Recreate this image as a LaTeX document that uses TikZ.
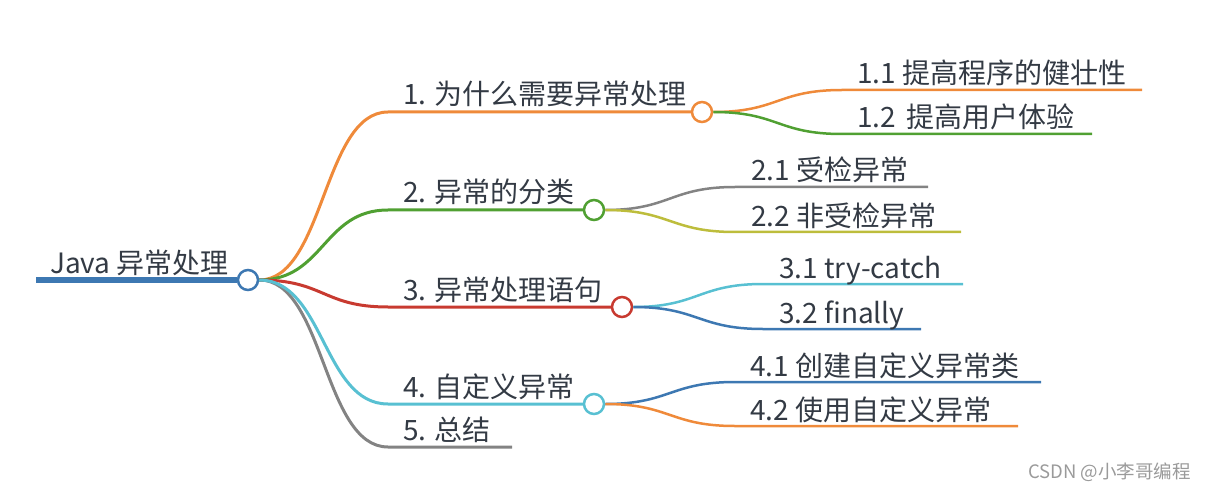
\documentclass[tikz,border=0pt]{standalone}
\usepackage{fontspec}
\setmainfont{Noto Sans CJK SC}
\usetikzlibrary{positioning}
\usepackage{xcolor}
\definecolor{mmtext}{HTML}{333A44}
\definecolor{mmblue}{HTML}{3D78B2}
\definecolor{mmorange}{HTML}{EF8A3A}
\definecolor{mmgreen}{HTML}{50A032}
\definecolor{mmred}{HTML}{C83A30}
\definecolor{mmcyan}{HTML}{58C0D2}
\definecolor{mmgray}{HTML}{838383}
\definecolor{mmolive}{HTML}{BDBD3C}
\definecolor{mmmark}{HTML}{9A9A9A}

\begin{document}
\begin{tikzpicture}[x=1pt, y=-1pt,
    hub/.style={draw, circle, fill=white, line width=2.5pt, minimum size=20pt, inner sep=0pt},
    lbl/.style={anchor=base west, inner sep=0pt, text=mmtext, font=\fontsize{28}{33}\selectfont},
    trunk/.style={line width=3pt},
    twig/.style={line width=2.5pt},
    scurve/.style={to path={.. controls +(65,0) and +(-65,0) .. (\tikztotarget)}}]
        \useasboundingbox (0,0) rectangle (1214,494);

        % root
        \coordinate (rs) at (36,280);
        \node[hub, draw=mmblue] (root) at (248,280) {};
        \draw[mmblue, line width=6pt] (rs) -- (root);
        \node[lbl] (troot) at (50,273) {Java 异常处理};

        % first level
        \node[hub, draw=mmorange] (c1) at (702,112) {};
        \node[hub, draw=mmgreen] (c2) at (594,210) {};
        \node[hub, draw=mmred] (c3) at (622,307) {};
        \node[hub, draw=mmcyan] (c4) at (594,404) {};
        \coordinate (k1) at (388,112);
        \coordinate (k2) at (388,210);
        \coordinate (k3) at (388,307);
        \coordinate (k4) at (388,404);
        \coordinate (k5) at (388,447);
        \coordinate (e5) at (512,447);
        \draw[trunk, mmorange] (root.east) to[scurve] (k1) -- (c1);
        \draw[trunk, mmgreen] (root.east) to[scurve] (k2) -- (c2);
        \draw[trunk, mmred] (root.east) to[scurve] (k3) -- (c3);
        \draw[trunk, mmgray] (root.east) to[scurve] (k5) -- (e5);
        \draw[trunk, mmcyan] (root.east) to[scurve] (k4) -- (c4);
        \node[lbl] (t1) at (403,105) {1. 为什么需要异常处理};
        \node[lbl] (t2) at (403,203) {2. 异常的分类};
        \node[lbl] (t3) at (403,300) {3. 异常处理语句};
        \node[lbl] (t4) at (403,397) {4. 自定义异常};
        \node[lbl] (t5) at (403,440) {5. 总结};

        % second level
        \coordinate (k11) at (842,90);   \coordinate (e11) at (1142,90);
        \coordinate (k12) at (842,134);  \coordinate (e12) at (1092,134);
        \coordinate (k21) at (735,187);  \coordinate (e21) at (928,187);
        \coordinate (k22) at (735,232);  \coordinate (e22) at (961,232);
        \coordinate (k31) at (763,284);  \coordinate (e31) at (963,284);
        \coordinate (k32) at (763,329);  \coordinate (e32) at (921,329);
        \coordinate (k41) at (735,382);  \coordinate (e41) at (1041,382);
        \coordinate (k42) at (735,426);  \coordinate (e42) at (1018,426);
        \draw[twig, mmorange] (c1.east) to[scurve] (k11) -- (e11);
        \draw[twig, mmgreen] (c1.east) to[scurve] (k12) -- (e12);
        \draw[twig, mmgray] (c2.east) to[scurve] (k21) -- (e21);
        \draw[twig, mmolive] (c2.east) to[scurve] (k22) -- (e22);
        \draw[twig, mmcyan] (c3.east) to[scurve] (k31) -- (e31);
        \draw[twig, mmblue] (c3.east) to[scurve] (k32) -- (e32);
        \draw[twig, mmblue] (c4.east) to[scurve] (k41) -- (e41);
        \draw[twig, mmorange] (c4.east) to[scurve] (k42) -- (e42);
        \node[lbl] (t11) at (857,84) {1.1 提高程序的健壮性};
        \node[lbl] (t12) at (857,128) {1.2 \hspace{4pt}提高用户体验};
        \node[lbl] (t21) at (751,181) {2.1 受检异常};
        \node[lbl] (t22) at (751,226) {2.2 非受检异常};
        \node[lbl] (t31) at (779,278) {3.1 try-catch};
        \node[lbl] (t32) at (779,323) {3.2 finally};
        \node[lbl] (t41) at (750,376) {4.1 创建自定义异常类};
        \node[lbl] (t42) at (750,420) {4.2 使用自定义异常};

        \node[anchor=base west, inner sep=0pt, text=mmmark, font=\fontsize{18.5}{22}\selectfont] (mark) at (1028,478) {CSDN @小李哥编程};
      \end{tikzpicture}
\end{document}
